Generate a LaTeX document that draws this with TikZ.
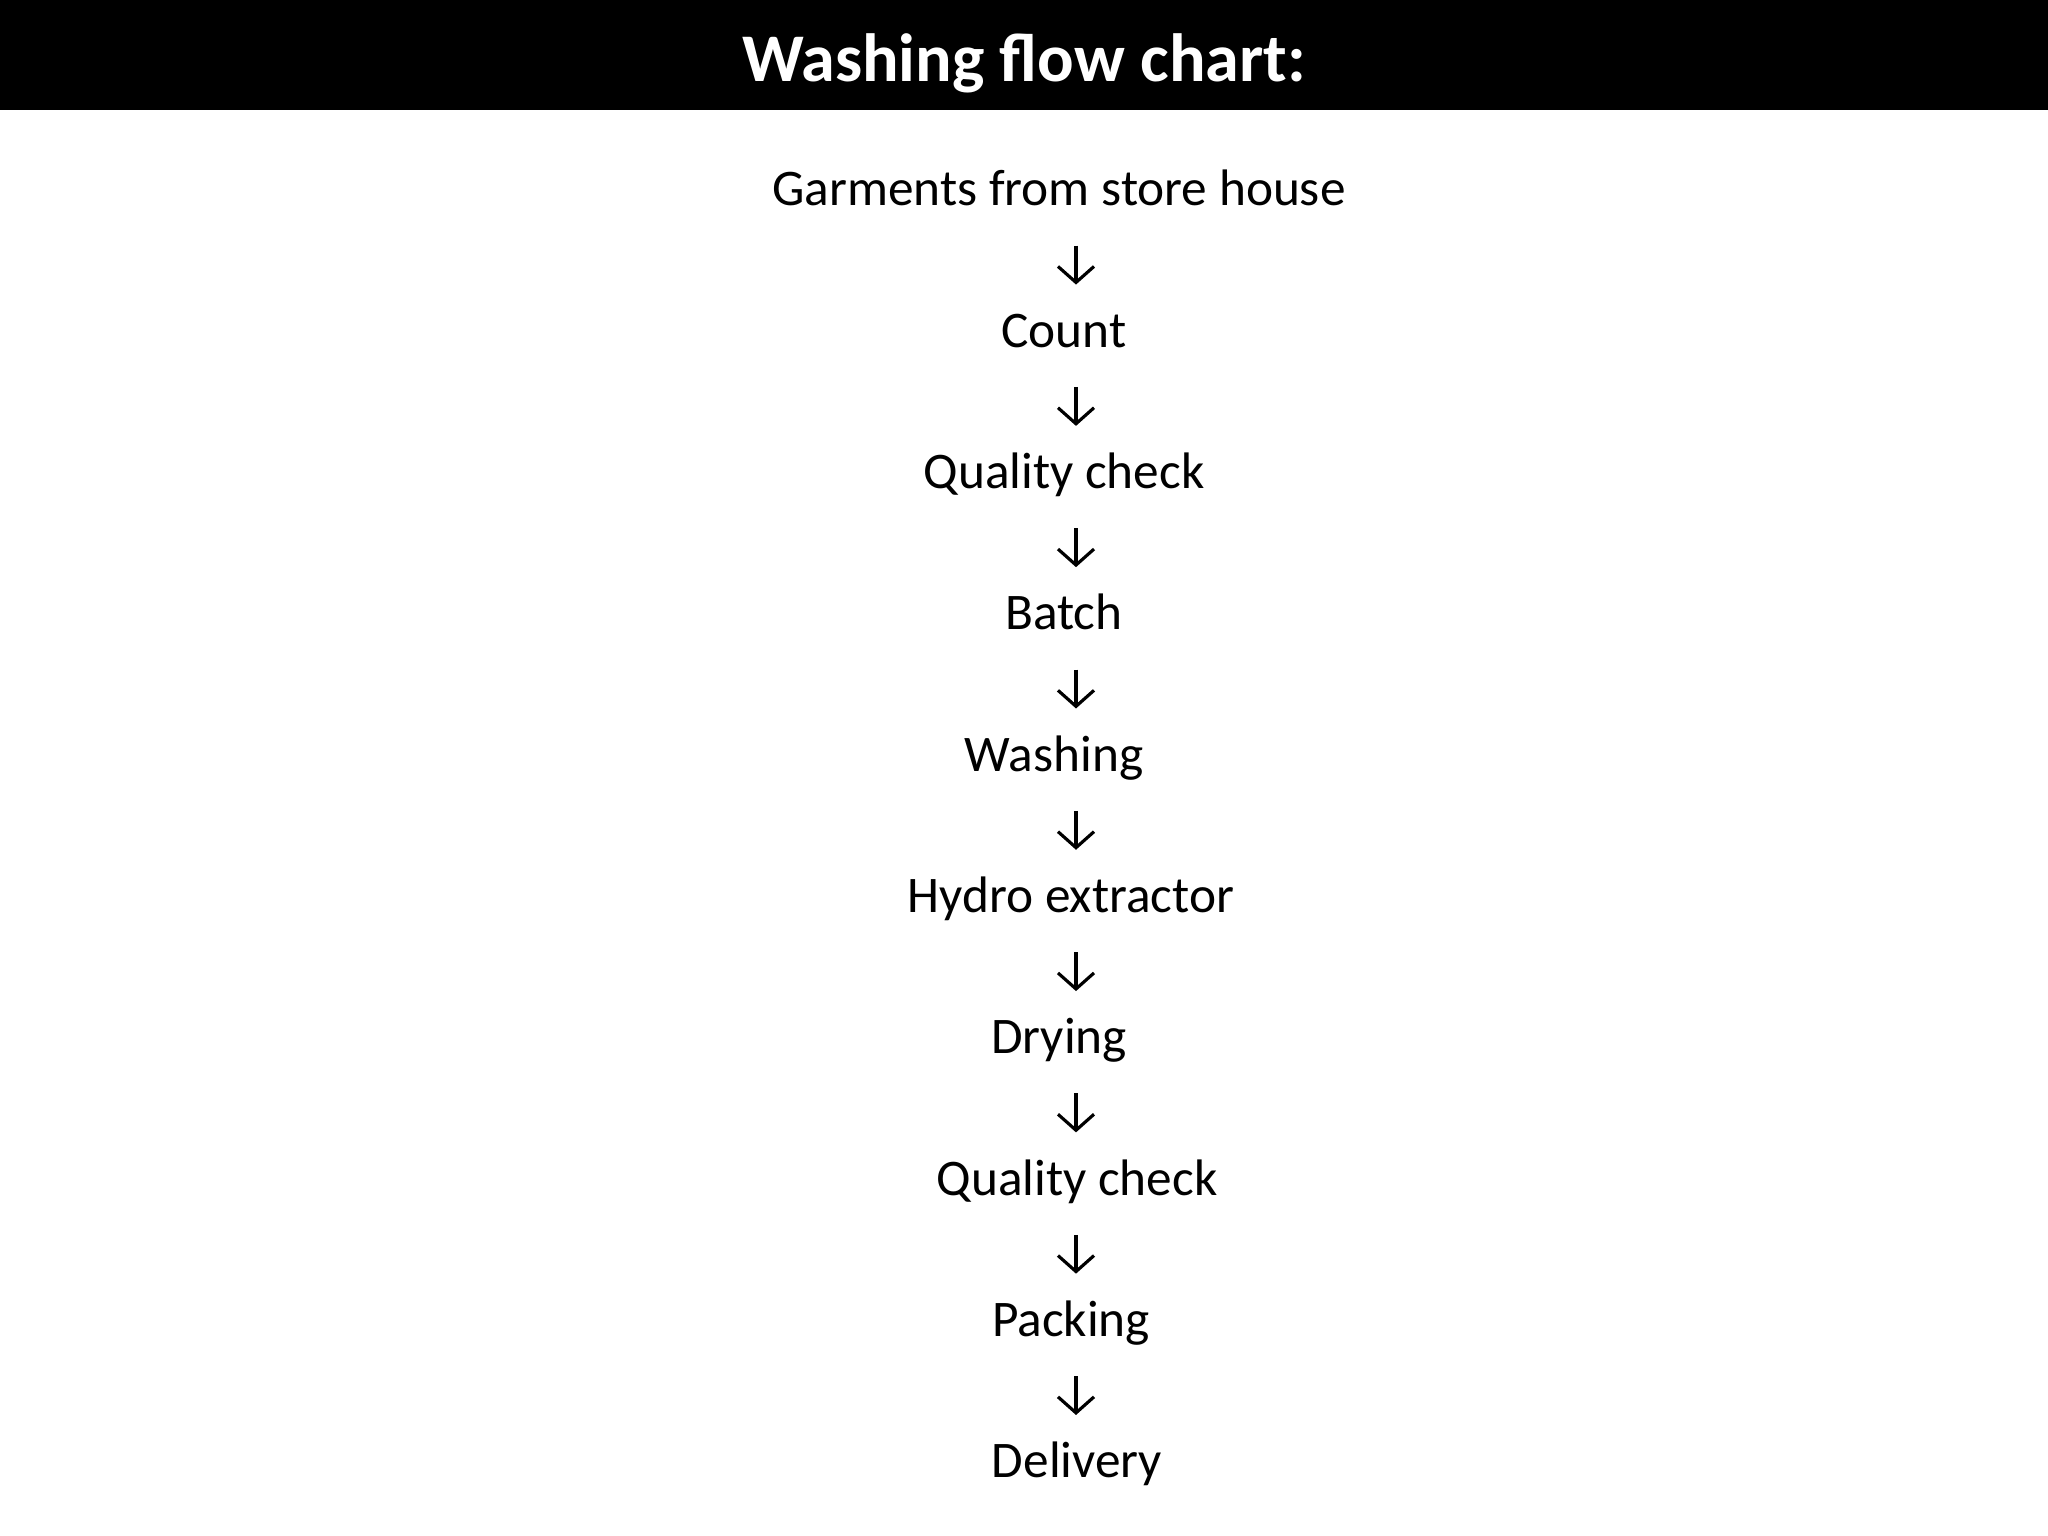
\documentclass[tikz,border=0pt]{standalone}
\usepackage{fontspec}
\setmainfont{Carlito}
\usetikzlibrary{arrows.meta}

\tikzset{
  stepnode/.style={anchor=base, inner sep=0pt, text height=0.33cm, text depth=0pt,
    font=\fontsize{14.6}{17.5}\selectfont},
  flow/.style={line width=0.9pt, -{Straight Barb[length=1.6mm,width=3.6mm]},
    shorten <=0.39cm, shorten >=0.29cm}
}

\begin{document}
\begin{tikzpicture}

% page and header bar
\useasboundingbox (0,0) rectangle (20.48,15.36);
\fill[black] (0,14.26) rectangle (20.48,15.36);
\node[anchor=base, text=white, font=\fontsize{19.4}{23}\selectfont\bfseries] (title) at (10.24,14.54) {Washing flow chart:};

% steps
\node[stepnode] (garments) at (10.59,13.30) {Garments from store house};
\node[stepnode] (count) at (10.64,11.887) {Count};
\node[stepnode] (check1) at (10.64,10.474) {Quality check};
\node[stepnode] (batch) at (10.64,9.061) {Batch};
\node[stepnode] (washing) at (10.54,7.648) {Washing};
\node[stepnode] (hydro) at (10.71,6.235) {Hydro extractor};
\node[stepnode] (drying) at (10.59,4.822) {Drying};
\node[stepnode] (check2) at (10.77,3.409) {Quality check};
\node[stepnode] (packing) at (10.71,1.996) {Packing};
\node[stepnode] (delivery) at (10.77,0.583) {Delivery};

% arrows
\coordinate (ax) at (10.76,0);
\draw[flow] (garments.south -| ax) -- (count.north -| ax);
\draw[flow] (count.south -| ax) -- (check1.north -| ax);
\draw[flow] (check1.south -| ax) -- (batch.north -| ax);
\draw[flow] (batch.south -| ax) -- (washing.north -| ax);
\draw[flow] (washing.south -| ax) -- (hydro.north -| ax);
\draw[flow] (hydro.south -| ax) -- (drying.north -| ax);
\draw[flow] (drying.south -| ax) -- (check2.north -| ax);
\draw[flow] (check2.south -| ax) -- (packing.north -| ax);
\draw[flow] (packing.south -| ax) -- (delivery.north -| ax);

\end{tikzpicture}
\end{document}
